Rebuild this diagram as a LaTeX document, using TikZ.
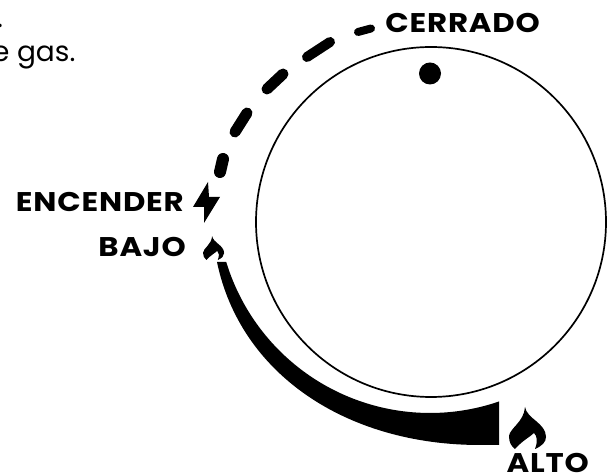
\documentclass[tikz,border=0pt]{standalone}
\usepackage{fontspec}
\setmainfont{Poppins}
\newfontfamily\markfont[FakeStretch=1.14,LetterSpace=3,BoldFont={Poppins Bold}]{Poppins}
\usepackage{tikz}
\tikzset{
  mark label/.style={font=\fontsize{27}{27}\markfont\bfseries,inner sep=0pt,anchor=base east},
  note label/.style={font=\fontsize{28}{28}\selectfont,inner sep=0pt,anchor=base west},
  gas dash/.style={line width=#1,line cap=round},
  pics/flame/.style={code={
    \fill (16,42) .. controls (18,30) and (37,26) .. (37,12) .. controls (37,7) and (33,3) .. (26,0)
      .. controls (29,8) and (28,13) .. (25,16) .. controls (21,12) and (14,9) .. (6,0)
      .. controls (2,3) and (0,7) .. (0,13) .. controls (1,21) and (15,27) .. (16,42) -- cycle;
  }}
}
\begin{document}
\begin{tikzpicture}[x=1pt,y=1pt]
  \useasboundingbox (0,0) rectangle (611,473);
  \draw[line width=1.7] (431,251) circle (175);
  \fill (430,399.5) circle (11);
  % gas range
  \fill (217,211) .. controls (240,100) and (345,28) .. (480,28) -- (499,28) -- (499,71.5)
    arc[start angle=288.9,end angle=196.9,radius=213] -- cycle;
  \draw[gas dash=8] (358,441) -- (371,444.5);
  \draw[gas dash=10] (307,416) -- (330,431);
  \draw[gas dash=11] (267,384) -- (283,399);
  \draw[gas dash=11] (235,341) -- (247,360);
  \draw[gas dash=12] (220,301) -- (223,314);
  \fill (208,291) -- (193,266) -- (204,266) -- (204,250) -- (220,276) -- (209,276) -- cycle;
  \pic[scale=0.57] at (203,213) {flame};
  \pic at (509,24) {flame};
  \node[mark label] (cerrado) at (540,440) {CERRADO};
  \node[mark label] (encender) at (184,261) {ENCENDER};
  \node[mark label] (bajo) at (186,216) {BAJO};
  \node[mark label] (alto) at (589,0.5) {ALTO};
  \node[note label] (gas) at (-8,411) {e gas.};
  \node[note label] (stop) at (-3,445) {.};
\end{tikzpicture}
\end{document}
